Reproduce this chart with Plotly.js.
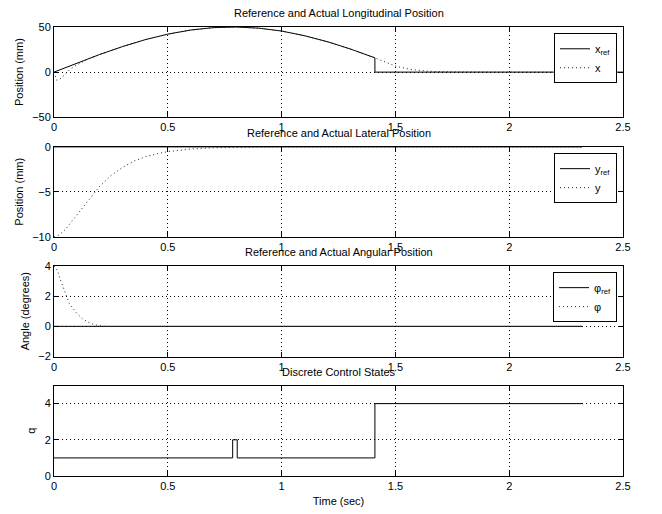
<!DOCTYPE html>
<html>
<head>
<meta charset="utf-8">
<script src="https://cdn.plot.ly/plotly-3.0.1.min.js"></script>
<style>html,body{margin:0;padding:0;background:#fff;}#chart{width:662px;height:514px;}</style>
</head>
<body>
<div id="chart"></div>
<script>
// ---- Data ----
// Panel 1: longitudinal position (mm)
var tXref = [0, 0.1, 0.2, 0.3, 0.4, 0.5, 0.6, 0.7, 0.8, 0.9, 1.0, 1.1, 1.2, 1.3, 1.4, 1.41, 1.41, 2.5];
var xRef  = [0, 10, 19.5, 28.2, 35.9, 42.1, 46.6, 49.3, 50, 48.7, 45.5, 40.4, 33.8, 25.8, 16.8, 15.8, 0, 0];
var tX    = [0, 0.012, 0.03, 0.05, 0.07, 0.1, 0.15, 0.2, 0.3, 0.4, 0.5, 0.6, 0.7, 0.8, 0.9, 1.0, 1.1, 1.2, 1.3, 1.4, 1.41, 1.433, 1.5, 1.565, 1.65, 1.75, 1.85, 2.0, 2.32];
var xAct  = [0, -9, -7, -1.5, 3, 8, 14.5, 19.3, 28.2, 35.9, 42.1, 46.6, 49.3, 50, 48.7, 45.5, 40.4, 33.8, 25.8, 16.8, 15.8, 13, 6.7, 3, 0.9, 0.3, 0.1, 0, 0];
// Panel 2: lateral position (mm)
var tYref = [0, 2.32];
var yRef  = [0, 0];
var tY    = [0, 0.023, 0.05, 0.1, 0.15, 0.18, 0.2, 0.25, 0.3, 0.35, 0.4, 0.45, 0.5, 0.6, 0.7, 0.8, 0.9, 1.0, 2.32];
var yAct  = [-10, -9.8, -9.2, -7.6, -5.9, -5, -4.4, -3.2, -2.3, -1.6, -1.1, -0.78, -0.53, -0.24, -0.1, -0.05, -0.02, 0, 0];
// Panel 3: angular position (degrees)
var tPref = [0, 2.32];
var pRef  = [0, 0];
var tP    = [0, 0.015, 0.03, 0.045, 0.067, 0.1, 0.125, 0.151, 0.175, 0.2, 0.23, 2.32];
var pAct  = [4, 3.7, 3.0, 2.35, 1.52, 0.86, 0.5, 0.27, 0.12, 0.04, 0, 0];
// Panel 4: discrete control states
var tQ = [0, 0.785, 0.785, 0.805, 0.805, 1.41, 1.41, 2.324];
var qV = [1, 1, 2, 2, 1, 1, 4, 4];

var titles = ['Reference and Actual Longitudinal Position', 'Reference and Actual Lateral Position',
              'Reference and Actual Angular Position', 'Discrete Control States'];
var yTitles = ['Position (mm)', 'Position (mm)', 'Angle (degrees)', 'q'];
var yRanges = [[-50, 50], [-10, 0], [-2, 4], [0, 5]];
var yDticks = [50, 5, 2, 2];
var legRef = ['x<sub>ref</sub>', 'y<sub>ref</sub>', '\u03c6<sub>ref</sub>'];
var legAct = ['x', 'y', '\u03c6'];

// ---- Styling ----
var FONT = 'Liberation Sans, Arial, Helvetica, sans-serif';
var domains = [[0.799, 1.0], [0.533, 0.733], [0.266, 0.468], [0.0, 0.2015]];
var solid = {color: '#000', width: 1, dash: 'solid'};
var dotted = {color: '#222', width: 1, dash: '1px,3px'};

var traces = [
  {x: tXref, y: xRef, xaxis: 'x', yaxis: 'y', name: legRef[0], line: solid, legend: 'legend'},
  {x: tX, y: xAct, xaxis: 'x', yaxis: 'y', name: legAct[0], line: dotted, legend: 'legend'},
  {x: tYref, y: yRef, xaxis: 'x2', yaxis: 'y2', name: legRef[1], line: solid, legend: 'legend2'},
  {x: tY, y: yAct, xaxis: 'x2', yaxis: 'y2', name: legAct[1], line: dotted, legend: 'legend2'},
  {x: tPref, y: pRef, xaxis: 'x3', yaxis: 'y3', name: legRef[2], line: solid, legend: 'legend3'},
  {x: tP, y: pAct, xaxis: 'x3', yaxis: 'y3', name: legAct[2], line: dotted, legend: 'legend3'},
  {x: tQ, y: qV, xaxis: 'x4', yaxis: 'y4', name: 'q', line: solid, showlegend: false}
];
traces.forEach(function (tr) { tr.type = 'scatter'; tr.mode = 'lines'; tr.cliponaxis = true; });

var layout = {
  width: 662, height: 514,
  margin: {l: 54, r: 39, t: 27, b: 38},
  paper_bgcolor: '#fff', plot_bgcolor: '#fff',
  font: {family: FONT, size: 11, color: '#000'},
  annotations: []
};

function axBase() {
  return {
    showline: true, linecolor: '#000', linewidth: 1, mirror: 'ticks',
    ticks: 'inside', ticklen: 5, tickcolor: '#000',
    showgrid: true, gridcolor: '#000', griddash: '1px,3px', gridwidth: 1,
    zeroline: false, tickfont: {family: FONT, size: 11, color: '#000'}
  };
}

for (var i = 0; i < 4; i++) {
  var s = i === 0 ? '' : String(i + 1);
  var xa = axBase();
  xa.domain = [0, 1];
  xa.range = [0, 2.5];
  xa.dtick = 0.5; xa.tick0 = 0;
  xa.anchor = 'y' + s;
  if (i === 3) xa.title = {text: 'Time (sec)', font: {family: FONT, size: 11}, standoff: 6};
  var ya = axBase();
  ya.domain = domains[i];
  ya.range = yRanges[i];
  ya.dtick = yDticks[i]; ya.tick0 = 0;
  ya.anchor = 'x' + s;
  ya.title = {text: yTitles[i], font: {family: FONT, size: 11}, standoff: 6};
  layout['xaxis' + s] = xa;
  layout['yaxis' + s] = ya;
  layout.annotations.push({
    text: titles[i], xref: 'paper', yref: 'paper', x: 0.5, y: domains[i][1],
    yshift: 14, xanchor: 'center', yanchor: 'middle', showarrow: false,
    font: {family: FONT, size: 11, color: '#000'}
  });
}

var legTops = [0.986, 0.719, 0.454];
['legend', 'legend2', 'legend3'].forEach(function (lg, k) {
  layout[lg] = {
    x: 0.9895, y: legTops[k], xanchor: 'right', yanchor: 'top',
    bgcolor: '#fff', bordercolor: '#000', borderwidth: 1,
    font: {family: FONT, size: 11, color: '#000'},
    tracegroupgap: 0, itemwidth: 30
  };
});

Plotly.newPlot('chart', traces, layout, {displayModeBar: false, staticPlot: true});
</script>
</body>
</html>
